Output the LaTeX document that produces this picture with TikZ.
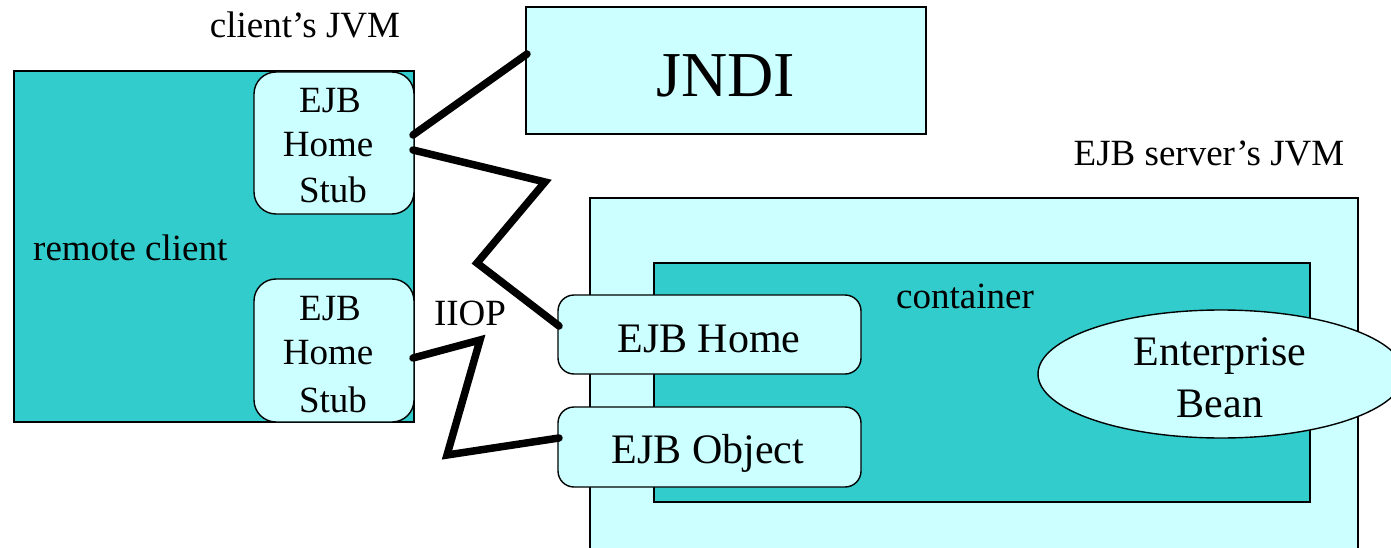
\documentclass[tikz,border=0pt]{standalone}
\usepackage{fontspec}
\setmainfont{Liberation Serif}
\usetikzlibrary{shapes.geometric}
\definecolor{teal2}{HTML}{33CCCC}
\definecolor{pale}{HTML}{CCFFFF}
\tikzset{
  box/.style={draw=black, line width=1.4pt, inner sep=0pt, outer sep=0pt, anchor=north west},
  rbox/.style={box, fill=pale, rounded corners=22pt},
  lbl/.style={inner sep=0pt, font=\fontsize{37}{45}\selectfont},
  wire/.style={line width=7.5pt, line cap=round, line join=miter}
}
\begin{document}
\begin{tikzpicture}[x=1pt,y=-1pt]
\useasboundingbox (0,0) rectangle (1391,548);
\clip (0,0) rectangle (1391,548);
% client side
\node[box, fill=teal2, minimum width=400pt, minimum height=351pt] (client) at (14,71) {};
\node[rbox, minimum width=160pt, minimum height=142pt] (stub1) at (254,72) {};
\node[rbox, minimum width=160pt, minimum height=143pt] (stub2) at (254,279) {};
% JNDI
\node[box, fill=pale, minimum width=400pt, minimum height=127pt] (jndi) at (526,7) {};
% server
\node[box, fill=pale, minimum width=768pt, minimum height=370pt] (server) at (590,198) {};
\node[box, fill=teal2, minimum width=656pt, minimum height=239pt] (cont) at (654,263) {};
\node[rbox, rounded corners=16pt, minimum width=303pt, minimum height=79pt] (home) at (558,295) {};
\node[rbox, rounded corners=16pt, minimum width=303pt, minimum height=80pt] (obj) at (558,407) {};
\node[draw=black, line width=1.4pt, fill=pale, ellipse, minimum width=366pt, minimum height=128pt, inner sep=0pt] (bean) at (1221,374) {};
% connector anchors
\coordinate (s1a) at (413,135);
\coordinate (s1b) at (413,150);
\coordinate (s2a) at (413,358);
\coordinate (ja) at (527,54);
\coordinate (ha) at (559,326);
\coordinate (oa) at (559,438);
\draw[wire] (s1a) -- (ja);
\draw[wire] (s1b) -- (545,182) -- (477,263) -- (ha);
\draw[wire] (s2a) -- (480,340) -- (447,455) -- (oa);
% texts
\node[lbl, anchor=base west] (rc) at (33,260) {remote client};
\node[lbl, anchor=base] (t1a) at (330,113) {EJB};
\node[lbl, anchor=base] (t1b) at (328,157) {Home};
\node[lbl, anchor=base] (t1c) at (333,203) {Stub};
\node[lbl, anchor=base] (t2a) at (330,320) {EJB};
\node[lbl, anchor=base] (t2b) at (328,364) {Home};
\node[lbl, anchor=base] (t2c) at (333,412) {Stub};
\node[lbl, anchor=base] (cjvm) at (305,38) {client's JVM};
\node[lbl, anchor=base] (sjvm) at (1209,166) {EJB server's JVM};
\node[lbl, anchor=base] (ct) at (965,308) {container};
\node[lbl, anchor=base] (iiop) at (470,325) {IIOP};
\node[inner sep=0pt, anchor=base, font=\fontsize{64}{70}\selectfont] (jt) at (726,97) {JNDI};
\node[lbl, anchor=base, font=\fontsize{42}{50}\selectfont] (ht) at (709,352) {EJB Home};
\node[lbl, anchor=base, font=\fontsize{42}{50}\selectfont] (ot) at (708,463) {EJB Object};
\node[lbl, anchor=base, font=\fontsize{42}{50}\selectfont] (bt1) at (1220,365) {Enterprise};
\node[lbl, anchor=base, font=\fontsize{42}{50}\selectfont] (bt2) at (1220,417) {Bean};
\end{tikzpicture}
\end{document}
